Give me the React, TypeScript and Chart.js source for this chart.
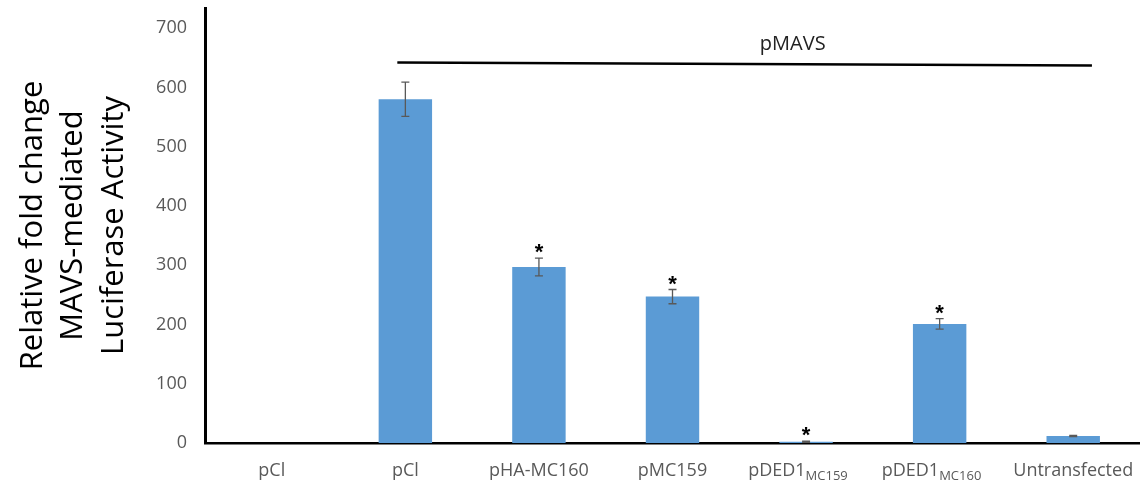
import React, { useEffect, useRef } from "react";
import { Chart, registerables } from "chart.js";

Chart.register(...registerables);

const categories = ["pCl", "pCl", "pHA-MC160", "pMC159", "pDED1", "pDED1", "Untransfected"];
const subscripts = ["", "", "", "", "MC159", "MC160", ""];
const values: (number | null)[] = [null, 580, 297, 247, 2, 201, 12];
const errors: (number | null)[] = [null, 29, 15, 12, 1, 9, 1];
const significant = [false, false, true, true, true, true, false];
const yTicks = [0, 100, 200, 300, 400, 500, 600, 700];
const yTitle = ["Relative fold change", "MAVS-mediated", "Luciferase Activity"];
const bracketLabel = "pMAVS";
const bracketFrom = 0.94;
const bracketTo = 6.14;
const bracketValueStart = 642;
const bracketValueEnd = 637;
const bracketLabelPos = 3.9;
const bracketLabelValue = 673;

const FONT = '"Open Sans", "Liberation Sans", sans-serif';

const overlayPlugin = {
  id: "overlay",
  afterDatasetsDraw(chart: any) {
    const { ctx, scales } = chart;
    const xs = scales.x;
    const ys = scales.y;
    ctx.save();
    // error bars
    ctx.strokeStyle = "#595959";
    ctx.lineWidth = 1.3;
    values.forEach((v, i) => {
      const e = errors[i];
      if (v === null || e === null) return;
      const x = xs.getPixelForValue(i);
      const yt = ys.getPixelForValue(v + e);
      const yb = ys.getPixelForValue(v - e);
      ctx.beginPath();
      ctx.moveTo(x, yt);
      ctx.lineTo(x, yb);
      ctx.moveTo(x - 4, yt);
      ctx.lineTo(x + 4, yt);
      ctx.moveTo(x - 4, yb);
      ctx.lineTo(x + 4, yb);
      ctx.stroke();
    });
    // significance stars
    ctx.fillStyle = "#000";
    ctx.font = 'bold 22px "Liberation Sans", sans-serif';
    ctx.textAlign = "center";
    ctx.textBaseline = "alphabetic";
    values.forEach((v, i) => {
      if (!significant[i] || v === null) return;
      const e = errors[i] || 0;
      const x = xs.getPixelForValue(i);
      const yt = ys.getPixelForValue(v + e);
      ctx.fillText("*", x, yt + 1);
    });
    // bracket line
    ctx.strokeStyle = "#000";
    ctx.lineWidth = 2.5;
    ctx.beginPath();
    ctx.moveTo(xs.getPixelForValue(bracketFrom), ys.getPixelForValue(bracketValueStart));
    ctx.lineTo(xs.getPixelForValue(bracketTo), ys.getPixelForValue(bracketValueEnd));
    ctx.stroke();
    ctx.font = `20px ${FONT}`;
    ctx.fillStyle = "#222";
    ctx.textBaseline = "middle";
    ctx.fillText(bracketLabel, xs.getPixelForValue(bracketLabelPos), ys.getPixelForValue(bracketLabelValue));
    // x labels with subscripts
    ctx.fillStyle = "#595959";
    ctx.textBaseline = "alphabetic";
    const baseY = xs.top + 33;
    categories.forEach((c, i) => {
      const cx = xs.getPixelForValue(i);
      const sub = subscripts[i];
      ctx.font = `18px ${FONT}`;
      if (!sub) {
        ctx.textAlign = "center";
        ctx.fillText(c, cx, baseY);
      } else {
        const fullW = ctx.measureText(c + sub).width;
        const mainW = ctx.measureText(c).width;
        const start = cx - fullW / 2;
        ctx.textAlign = "left";
        ctx.fillText(c, start, baseY);
        ctx.font = `13px ${FONT}`;
        ctx.fillText(sub, start + mainW, baseY + 4);
      }
    });
    ctx.restore();
  },
};

export default function App() {
  const ref = useRef<HTMLCanvasElement>(null);
  useEffect(() => {
    if (!ref.current) return;
    const chart = new Chart(ref.current, {
      type: "bar",
      data: {
        labels: categories.map((c, i) => c + subscripts[i]),
        datasets: [
          {
            data: values as any,
            backgroundColor: "#5B9BD5",
            borderWidth: 0,
            barPercentage: 0.4,
            categoryPercentage: 1,
          },
        ],
      },
      options: {
        responsive: false,
        animation: false,
        layout: { padding: { top: 8, right: 0, bottom: 0, left: 0 } },
        plugins: { legend: { display: false }, tooltip: { enabled: false } },
        scales: {
          x: {
            grid: { display: false, drawTicks: false },
            border: { display: true, color: "#000", width: 2.5 },
            ticks: { display: false },
            afterFit: (s: any) => {
              s.height = 44;
              s.paddingLeft = 0;
              s.paddingRight = 0;
            },
          },
          y: {
            min: 0,
            max: 734,
            grid: { display: false, drawTicks: false },
            border: { display: true, color: "#000", width: 3 },
            ticks: {
              stepSize: 100,
              padding: 18,
              color: "#595959",
              font: { family: FONT, size: 18 },
            },
            afterBuildTicks: (s: any) => {
              s.ticks = yTicks.map((v) => ({ value: v }));
            },
            title: {
              display: true,
              text: yTitle,
              color: "#000",
              font: { family: FONT, size: 31, lineHeight: 1.3 },
              padding: { top: 13, bottom: 0 },
            },
            afterFit: (s: any) => {
              s.width = 205;
              s.paddingTop = 0;
              s.paddingBottom = 0;
            },
          },
        },
      },
      plugins: [overlayPlugin],
    });
    return () => chart.destroy();
  }, []);
  return (
    <div style={{ position: "absolute", left: 0, top: 0, width: 1140, height: 487, background: "#fff" }}>
      <canvas ref={ref} width={1140} height={487} />
    </div>
  );
}
